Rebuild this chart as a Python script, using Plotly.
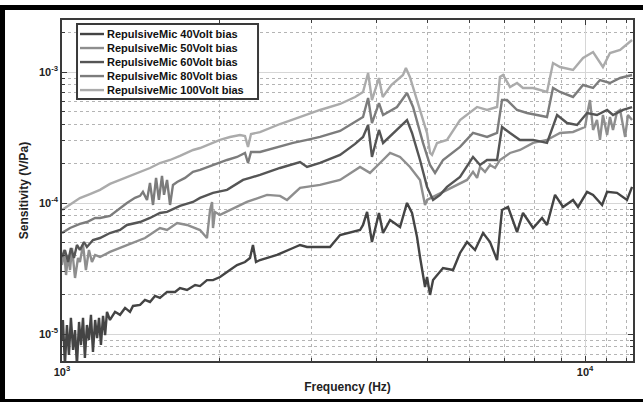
import plotly.graph_objects as go

# ---------------- data ----------------
f_40 = [1000,1004,1013,1022,1031,1040,1050,1059,1068,1078,
        1087,1097,1106,1116,1126,1136,1146,1157,1167,1177,
        1187,1198,1209,1219,1235,1263,1291,1320,1349,1367,
        1410,1441,1473,1506,1539,1588,1645,1681,1734,1797,
        1836,1893,1944,2005,2068,2161,2238,2288,2318,2349,
        2391,2499,2577,2765,2852,2941,3114,3254,3401,3714,
        3763,3831,3914,4037,4110,4239,4429,4567,4669,4773,
        4836,4944,4988,5054,5122,5352,5593,5768,5948,6161,
        6383,6582,6789,6939,7124,7413,7610,7957,8276,8458,
        8763,9077,9485,9697,10090,10360,10780,11020,11510,12030,
        12300]
v_40 = [9.0e-6,1.28e-5,5.8e-6,1.172e-5,6.92e-6,1.33e-5,7.55e-6,1.07e-5,5.8e-6,1.236e-5,
        8.24e-6,1.33e-5,6.56e-6,1.172e-5,9.0e-6,1.401e-5,7.29e-6,1.28e-5,9.30e-6,1.33e-5,
        8.24e-6,1.377e-5,9.80e-6,1.477e-5,1.28e-5,1.477e-5,1.401e-5,1.582e-5,1.477e-5,1.638e-5,
        1.667e-5,1.82e-5,1.757e-5,1.953e-5,1.886e-5,2.095e-5,2.095e-5,2.242e-5,2.17e-5,2.363e-5,
        2.322e-5,2.58e-5,2.58e-5,2.724e-5,2.974e-5,3.362e-5,3.543e-5,3.806e-5,4.782e-5,3.543e-5,
        3.67e-5,3.874e-5,4.012e-5,4.536e-5,4.782e-5,4.617e-5,4.617e-5,4.617e-5,5.698e-5,6.22e-5,
        6.797e-5,8.545e-5,5.04e-5,8.396e-5,5.901e-5,7.42e-5,6.563e-5,1.001e-4,8.396e-5,5.502e-5,
        3.874e-5,2.282e-5,2.724e-5,1.988e-5,2.58e-5,3.189e-5,3.08e-5,4.155e-5,5.04e-5,4.38e-5,
        5.901e-5,5.04e-5,3.67e-5,8.85e-5,9.33e-5,6.006e-5,8.396e-5,6.448e-5,7.691e-5,6.797e-5,
        1.154e-4,9.33e-5,1.055e-4,9.33e-5,1.217e-4,1.154e-4,9.66e-5,1.217e-4,1.195e-4,1.055e-4,
        1.327e-4]

f_50 = [1000,1009,1018,1027,1036,1045,1059,1073,1082,1097,
        1111,1126,1141,1157,1182,1235,1291,1367,1441,1539,
        1588,1660,1734,1836,1877,1893,1919,1936,1944,1961,
        2005,2142,2257,2466,2611,2693,2852,3114,3401,3714,
        3880,4055,4239,4429,4627,4836,4944,4988,5122,5446,
        5768,5948,6107,6217,6298,6438,6582,6729,6876,7188,
        7510,7957,8458,8958,9485,10000,10130,10220,10360,10540,
        10680,10820,11020,11160,11310,11510,11670,11820,11930,12080,
        12300]
v_50 = [3.362e-5,4.38e-5,2.821e-5,4.012e-5,3.08e-5,4.536e-5,2.677e-5,3.806e-5,3.543e-5,4.782e-5,
        3.08e-5,4.38e-5,3.543e-5,4.012e-5,3.874e-5,4.229e-5,4.536e-5,4.952e-5,5.405e-5,6.448e-5,
        6.22e-5,7.039e-5,6.797e-5,6.22e-5,5.598e-5,5.405e-5,8.85e-5,1.019e-4,6.448e-5,8.545e-5,
        8.107e-5,9.168e-5,1.019e-4,1.154e-4,1.134e-4,1.055e-4,1.304e-4,1.374e-4,1.50e-4,1.884e-4,
        1.698e-4,2.021e-4,2.41e-4,2.247e-4,1.884e-4,1.50e-4,9.66e-5,1.055e-4,1.114e-4,1.26e-4,
        1.423e-4,1.50e-4,1.728e-4,1.556e-4,1.884e-4,1.728e-4,1.951e-4,1.851e-4,2.13e-4,2.41e-4,
        2.54e-4,2.875e-4,3.03e-4,3.425e-4,3.486e-4,3.803e-4,5.13e-4,6.11e-4,3.61e-4,4.30e-4,
        3.03e-4,4.699e-4,3.307e-4,4.537e-4,3.61e-4,4.953e-4,5.13e-4,3.737e-4,3.193e-4,4.699e-4,
        4.30e-4]

f_60 = [1000,1013,1027,1040,1054,1068,1082,1102,1116,1146,
        1182,1235,1291,1331,1410,1473,1539,1588,1681,1780,
        1836,1944,2068,2219,2288,2391,2611,2852,2941,3114,
        3401,3634,3763,3848,3914,4037,4110,4370,4567,4669,
        4836,4988,5122,5283,5446,5768,6107,6298,6497,6789,
        6939,7188,7510,7957,8458,8842,9240,9654,10090,10540,
        11020,11310,11820,12300]
v_60 = [3.874e-5,4.38e-5,3.543e-5,4.536e-5,3.806e-5,4.782e-5,4.38e-5,5.04e-5,4.617e-5,5.22e-5,
        5.405e-5,5.901e-5,6.22e-5,6.797e-5,7.164e-5,7.691e-5,8.396e-5,8.545e-5,9.495e-5,1.019e-4,
        1.095e-4,1.195e-4,1.26e-4,1.50e-4,1.556e-4,1.64e-4,1.851e-4,2.057e-4,1.884e-4,2.021e-4,
        2.327e-4,2.825e-4,3.193e-4,3.939e-4,2.247e-4,3.61e-4,2.875e-4,3.61e-4,4.30e-4,3.425e-4,
        2.13e-4,1.327e-4,1.055e-4,1.154e-4,1.327e-4,1.583e-4,2.247e-4,1.951e-4,2.13e-4,2.13e-4,
        3.803e-4,3.425e-4,3.03e-4,3.03e-4,2.875e-4,4.699e-4,4.079e-4,3.939e-4,4.867e-4,4.699e-4,
        5.13e-4,4.699e-4,5.13e-4,5.404e-4]

f_80 = [1000,1036,1082,1116,1157,1182,1235,1291,1331,1379,
        1410,1428,1454,1473,1493,1513,1532,1553,1567,1588,
        1609,1630,1660,1719,1780,1836,1944,2068,2161,2238,
        2268,2298,2391,2577,2765,2941,3114,3401,3634,3763,
        3848,3914,4037,4110,4370,4567,4690,4900,5054,5167,
        5352,5768,6107,6497,6789,6939,7093,7413,7746,8458,
        8685,8958,9485,9913,10360,10680,11160,11670,12300]
v_80 = [5.90e-5,6.45e-5,6.92e-5,7.16e-5,7.69e-5,7.69e-5,7.97e-5,9.17e-5,1.00e-4,1.095e-4,
        1.134e-4,1.217e-4,1.055e-4,1.423e-4,9.66e-5,1.556e-4,1.055e-4,1.611e-4,1.154e-4,1.50e-4,
        9.66e-5,1.374e-4,1.448e-4,1.556e-4,1.728e-4,1.79e-4,1.951e-4,2.13e-4,2.247e-4,2.41e-4,
        2.02e-4,2.452e-4,2.452e-4,2.68e-4,2.875e-4,3.03e-4,3.193e-4,3.547e-4,4.15e-4,4.537e-4,
        6.335e-4,4.079e-4,5.797e-4,4.699e-4,5.404e-4,6.916e-4,5.404e-4,2.875e-4,1.951e-4,1.698e-4,
        2.13e-4,2.68e-4,3.425e-4,3.193e-4,3.425e-4,6.11e-4,6.11e-4,5.13e-4,4.867e-4,4.537e-4,
        7.552e-4,7.039e-4,6.448e-4,7.96e-4,7.552e-4,8.69e-4,8.244e-4,9.0e-4,9.49e-4]

f_100 = [1000,1036,1082,1131,1182,1235,1291,1331,1410,1473,
         1539,1609,1681,1781,1836,1919,2005,2095,2189,2238,
         2268,2298,2391,2611,2852,3114,3401,3634,3763,3848,
         3914,4035,4104,4262,4487,4545,4625,4836,4988,5055,
         5099,5212,5446,5768,6217,6497,6789,6876,6970,7188,
         7413,7610,7957,8458,8685,8958,9485,9913,10360,10820,
         11160,11670,12300]
v_100 = [8.84e-5,9.65e-5,1.09e-4,1.17e-4,1.26e-4,1.40e-4,1.50e-4,1.58e-4,1.73e-4,1.85e-4,
         2.02e-4,2.13e-4,2.29e-4,2.54e-4,2.63e-4,2.82e-4,3.03e-4,3.19e-4,3.30e-4,3.25e-4,
         2.68e-4,3.36e-4,3.48e-4,4.01e-4,4.53e-4,5.13e-4,5.70e-4,6.44e-4,7.04e-4,9.83e-4,
         6.11e-4,9.0e-4,6.44e-4,7.96e-4,9.5e-4,1.073e-3,9.16e-4,5.13e-4,3.42e-4,2.41e-4,
         2.33e-4,2.87e-4,3.03e-4,4.30e-4,5.41e-4,5.13e-4,5.41e-4,9.16e-4,9.5e-4,7.68e-4,
         8.24e-4,7.55e-4,7.55e-4,7.04e-4,1.171e-3,1.092e-3,1.036e-3,1.279e-3,1.421e-3,1.092e-3,
         1.396e-3,1.472e-3,1.755e-3]

series_names = ["RepulsiveMic 40Volt bias", "RepulsiveMic 50Volt bias",
                "RepulsiveMic 60Volt bias", "RepulsiveMic 80Volt bias",
                "RepulsiveMic 100Volt bias"]
series_f = [f_40, f_50, f_60, f_80, f_100]
series_v = [v_40, v_50, v_60, v_80, v_100]
series_colors = ["#444444", "#8e8e8e", "#555555", "#7c7c7c", "#ababab"]

x_major = [1000, 10000]
x_major_text = ["10<sup>3</sup>", "10<sup>4</sup>"]
x_minor = [2000, 3000, 4000, 5000, 6000, 7000, 8000, 9000, 11000, 12000]
y_major = [1e-5, 1e-4, 1e-3]
y_major_text = ["10<sup>-5</sup>", "10<sup>-4</sup>", "10<sup>-3</sup>"]
y_minor = [7e-6, 8e-6, 9e-6,
           2e-5, 3e-5, 4e-5, 5e-5, 6e-5, 7e-5, 8e-5, 9e-5,
           2e-4, 3e-4, 4e-4, 5e-4, 6e-4, 7e-4, 8e-4, 9e-4,
           2e-3]

FONT = "Liberation Sans, Arial, Helvetica, sans-serif"

fig = go.Figure()
for name, fx, vy, col in zip(series_names, series_f, series_v, series_colors):
    fig.add_trace(go.Scatter(x=fx, y=vy, mode="lines", name=name, showlegend=False,
                             line=dict(color=col, width=2.4)))

axis_common = dict(
    type="log", showline=True, linecolor="#3a3a3a", linewidth=1.5, mirror="ticks",
    ticks="inside", ticklen=5, tickwidth=1, tickcolor="#3a3a3a", automargin=False,
    showgrid=True, gridcolor="#d6d6d6", gridwidth=1, zeroline=False,
    tickfont=dict(family=FONT, size=11, color="#222222", weight="bold"),
)

# ---- legend box (drawn in paper space, compact like the original) ----
leg_x0, leg_x1, leg_y0, leg_y1 = 0.0263, 0.3433, 0.7683, 0.9883
leg_row_top, leg_row_step = 0.9589, 0.0411
shapes = [dict(type="rect", xref="paper", yref="paper", x0=leg_x0, x1=leg_x1,
               y0=leg_y0, y1=leg_y1, fillcolor="white",
               line=dict(color="#3a3a3a", width=2), layer="above")]
annotations = []
for i, (name, col) in enumerate(zip(series_names, series_colors)):
    yy = leg_row_top - i * leg_row_step
    shapes.append(dict(type="line", xref="paper", yref="paper", x0=0.0315, x1=0.0736,
                       y0=yy, y1=yy, line=dict(color=col, width=2.4), layer="above"))
    annotations.append(dict(xref="paper", yref="paper", x=0.0753, y=yy, text=name,
                            showarrow=False, xanchor="left", yanchor="middle",
                            font=dict(family=FONT, size=11, color="#111111", weight="bold")))

# ---- outer black frame of the figure ----
shapes += [
    dict(type="rect", xref="paper", yref="paper", x0=-0.12, x1=1.03, y0=1.0293, y1=1.044,
         fillcolor="black", line=dict(width=0), layer="above"),
    dict(type="rect", xref="paper", yref="paper", x0=-0.12, x1=-0.0998, y0=-0.125, y1=1.044,
         fillcolor="black", line=dict(width=0), layer="above"),
    dict(type="rect", xref="paper", yref="paper", x0=-0.12, x1=1.03, y0=-0.125, y1=-0.1114,
         fillcolor="black", line=dict(width=0), layer="above"),
]

fig.update_layout(
    width=643, height=402,
    margin=dict(l=62, r=10, t=20, b=41, autoexpand=False),
    paper_bgcolor="white", plot_bgcolor="white",
    font=dict(family=FONT, color="#222222"),
    showlegend=False,
    xaxis=dict(axis_common, range=[3, 4.0917], tickvals=x_major, ticktext=x_major_text,
               minor=dict(tickvals=x_minor, ticks="inside", ticklen=3, tickcolor="#3a3a3a",
                          showgrid=True, gridcolor="#b4b4b4", griddash="dot", gridwidth=1),
               title=dict(text="Frequency (Hz)", standoff=6,
                          font=dict(family=FONT, size=12, color="#222222", weight="bold"))),
    yaxis=dict(axis_common, range=[-5.206, -2.603], tickvals=y_major, ticktext=y_major_text,
               minor=dict(tickvals=y_minor, ticks="inside", ticklen=3, tickcolor="#3a3a3a",
                          showgrid=True, gridcolor="#b4b4b4", griddash="dot", gridwidth=1),
               title=dict(text="Sensitivity (V/Pa)", standoff=8,
                          font=dict(family=FONT, size=12, color="#222222", weight="bold"))),
    shapes=shapes,
    annotations=annotations,
)

fig.write_html("out.html", config={"displayModeBar": False},
               post_script="document.body.style.margin='0';document.body.style.padding='0';")
